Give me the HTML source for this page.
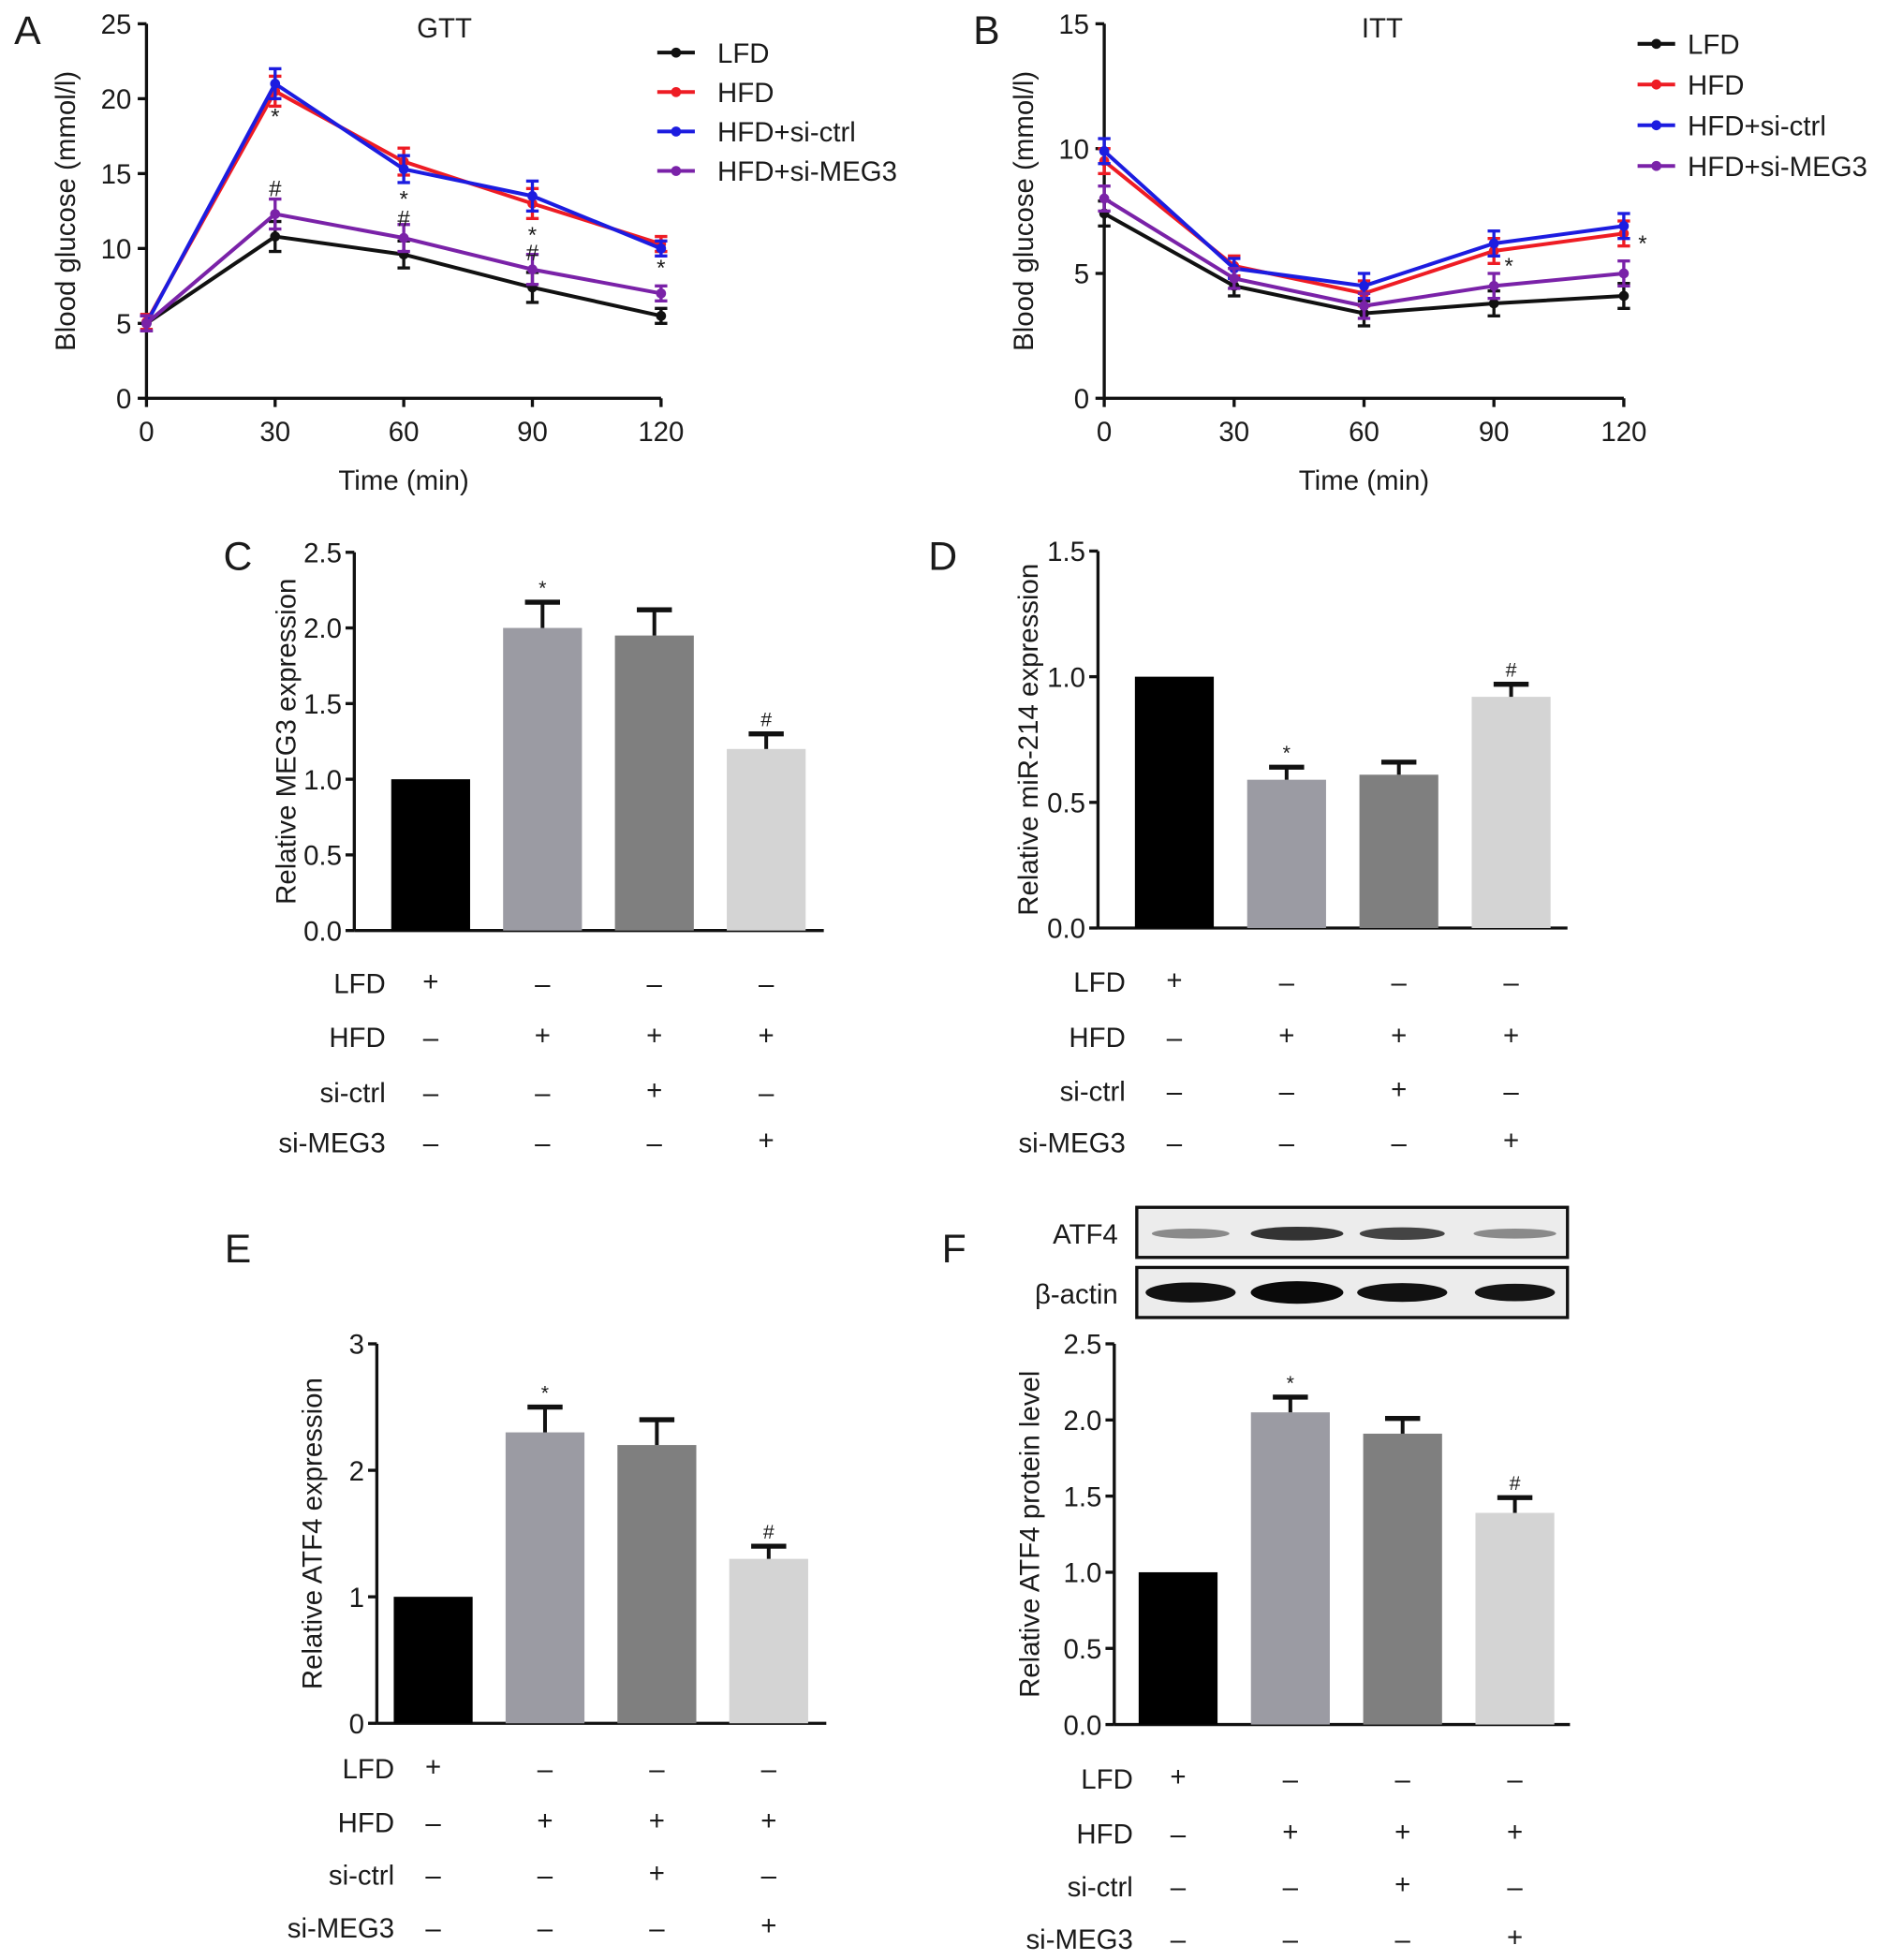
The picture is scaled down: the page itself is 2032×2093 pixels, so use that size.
<!DOCTYPE html>
<html><head><meta charset="utf-8"><style>
html,body{margin:0;padding:0;background:#fff;}
svg{display:block;font-family:"Liberation Sans",Arial,sans-serif;}
</style></head><body>
<svg id="fig" width="2032" height="2093" viewBox="0 0 1520 1565" preserveAspectRatio="none" xmlns="http://www.w3.org/2000/svg"></svg>
<script>
// ---- Panel A (GTT) data ----
const timesA = [0, 30, 60, 90, 120];
const gttLFD = [5.0, 10.8, 9.6, 7.4, 5.5];
const gttHFD = [5.1, 20.5, 15.8, 13.0, 10.3];
const gttCtrl = [5.0, 21.0, 15.3, 13.5, 10.0];
const gttMEG3 = [5.0, 12.3, 10.7, 8.6, 7.0];
const gttErr = [0.5, 1.0, 0.9, 1.0, 0.5];
const gttTicks = [0, 5, 10, 15, 20, 25];
// ---- Panel B (ITT) data ----
const ittLFD = [7.4, 4.5, 3.4, 3.8, 4.1];
const ittHFD = [9.5, 5.3, 4.2, 5.9, 6.6];
const ittCtrl = [9.9, 5.2, 4.5, 6.2, 6.9];
const ittMEG3 = [8.0, 4.8, 3.7, 4.5, 5.0];
const ittErr = [0.5, 0.4, 0.5, 0.5, 0.5];
const ittTicks = [0, 5, 10, 15];
const seriesNames = ["LFD", "HFD", "HFD+si-ctrl", "HFD+si-MEG3"];
// ---- bar panels ----
const groups = ["LFD", "HFD", "si-ctrl", "si-MEG3"];
const signs = [["+","–","–","–"],["–","+","+","+"],["–","–","+","–"],["–","–","–","+"]];
const megVals = [1.0, 2.0, 1.95, 1.2];
const megErr = [0, 0.17, 0.17, 0.1];
const megTicks = [0.0, 0.5, 1.0, 1.5, 2.0, 2.5];
const mirVals = [1.0, 0.59, 0.61, 0.92];
const mirErr = [0, 0.05, 0.05, 0.05];
const mirTicks = [0.0, 0.5, 1.0, 1.5];
const atfVals = [1.0, 2.3, 2.2, 1.3];
const atfErr = [0, 0.2, 0.2, 0.1];
const atfTicks = [0, 1, 2, 3];
const protVals = [1.0, 2.05, 1.91, 1.39];
const protErr = [0, 0.1, 0.1, 0.1];
const protTicks = [0.0, 0.5, 1.0, 1.5, 2.0, 2.5];

const svg = document.getElementById('fig');
const NS = "http://www.w3.org/2000/svg";
function el(tag, attrs, parent) {
  const e = document.createElementNS(NS, tag);
  for (const k in attrs) e.setAttribute(k, attrs[k]);
  (parent || svg).appendChild(e);
  return e;
}
function txt(s, x, y, size, anchor, parent, extra) {
  const t = el('text', Object.assign({x: x, y: y, 'font-size': size, 'text-anchor': anchor || 'start', fill: '#1a1a1a'}, extra || {}), parent);
  t.textContent = s;
  return t;
}
function letter(s, x, y) {
  const t = txt(s, x, y, 32, 'middle');
  
  
}

function linePanel(cfg) {
  const g = el('g', {});
  
  
  const sx = v => cfg.x0 + (v / 120) * (cfg.x1 - cfg.x0);
  const sy = v => cfg.y0 - (v / cfg.ymax) * (cfg.y0 - cfg.y1);
  el('line', {x1: cfg.x0, y1: cfg.y1, x2: cfg.x0, y2: cfg.y0, stroke: '#111', 'stroke-width': 2.5}, g);
  el('line', {x1: cfg.x0, y1: cfg.y0, x2: sx(120), y2: cfg.y0, stroke: '#111', 'stroke-width': 2.5}, g);
  cfg.ticks.forEach(v => {
    el('line', {x1: cfg.x0 - 7, y1: sy(v), x2: cfg.x0, y2: sy(v), stroke: '#111', 'stroke-width': 2.5}, g);
    const t = txt(String(v), cfg.x0 - 12, sy(v) + 8, 22, 'end', g);
    
    
  });
  timesA.forEach(v => {
    el('line', {x1: sx(v), y1: cfg.y0, x2: sx(v), y2: cfg.y0 + 7, stroke: '#111', 'stroke-width': 2.5}, g);
    const t = txt(String(v), sx(v), cfg.y0 + 34, 22, 'middle', g);
    
    
  });
  const xt = txt('Time (min)', (cfg.x0 + sx(120)) / 2, cfg.y0 + 73, 22, 'middle', g);
  
  
  const yt = txt('Blood glucose (mmol/l)', 0, 0, 22, 'middle', g, {transform: `translate(${cfg.x0 - 57},${(cfg.y0 + cfg.y1) / 2}) rotate(-90)`});
  
  
  const tt = txt(cfg.title, cfg.titleX, 30, 22, 'middle', g);
  
  
  const colors = ['#111', '#ee1c24', '#1c1ce0', '#7a22a8'];
  cfg.series.forEach((data, si) => {
    const c = colors[si];
    const pts = data.map((v, i) => sx(timesA[i]) + ',' + sy(v)).join(' ');
    const pl = el('polyline', {points: pts, fill: 'none', stroke: c, 'stroke-width': 3}, g);
    
    
    data.forEach((v, i) => {
      const x = sx(timesA[i]), e = cfg.err[i];
      el('line', {x1: x, y1: sy(v - e), x2: x, y2: sy(v + e), stroke: c, 'stroke-width': 2.5}, g);
      el('line', {x1: x - 5, y1: sy(v + e), x2: x + 5, y2: sy(v + e), stroke: c, 'stroke-width': 2.5}, g);
      el('line', {x1: x - 5, y1: sy(v - e), x2: x + 5, y2: sy(v - e), stroke: c, 'stroke-width': 2.5}, g);
      const m = el('circle', {cx: x, cy: sy(v), r: 4, fill: c}, g);
      
      
    });
  });
  cfg.marks.forEach(m => {
    const t = txt(m[0], sx(m[1]) + (m[3] || 0), sy(m[2]), 18, 'middle', g);
    
    
  });
  seriesNames.forEach((n, i) => {
    const y = cfg.legY + i * cfg.legDy;
    const lg = el('g', {}, g);
    
    
    el('line', {x1: cfg.legX, y1: y, x2: cfg.legX + 30, y2: y, stroke: colors[i], 'stroke-width': 3}, lg);
    el('circle', {cx: cfg.legX + 15, cy: y, r: 4, fill: colors[i]}, lg);
    txt(n, cfg.legX + 40 + cfg.legGap, y + 8, 22, 'start', lg);
  });
}

linePanel({name: 'gtt-chart', x0: 117, x1: 528, y0: 318, y1: 19, ymax: 25, ticks: gttTicks, title: 'GTT', titleX: 355,
  series: [gttLFD, gttHFD, gttCtrl, gttMEG3], err: gttErr, legX: 525, legY: 42, legDy: 31.5, legGap: 8,
  marks: [['*', 30, 18.3], ['#', 30, 13.5], ['*', 60, 12.8], ['#', 60, 11.5], ['*', 90, 10.4], ['#', 90, 9.2], ['*', 120, 8.2]]});
linePanel({name: 'itt-chart', x0: 882, x1: 1297, y0: 318, y1: 19, ymax: 15, ticks: ittTicks, title: 'ITT', titleX: 1104,
  series: [ittLFD, ittHFD, ittCtrl, ittMEG3], err: ittErr, legX: 1308, legY: 35, legDy: 32.5, legGap: 0,
  marks: [['*', 90, 5.0, 12], ['*', 120, 5.9, 15]]});
letter('A', 22, 35);
letter('B', 788, 35);

function barPanel(cfg) {
  const g = el('g', {});
  
  
  const ymax = cfg.ticks[cfg.ticks.length - 1];
  const sy = v => cfg.y0 - (v / ymax) * (cfg.y0 - cfg.y1);
  const sxb = i => cfg.c0 + i * (cfg.c3 - cfg.c0) / (groups.length - 1);
  el('line', {x1: cfg.x0, y1: cfg.y1, x2: cfg.x0, y2: cfg.y0, stroke: '#111', 'stroke-width': 2.5}, g);
  el('line', {x1: cfg.x0, y1: cfg.y0, x2: cfg.xEnd, y2: cfg.y0, stroke: '#111', 'stroke-width': 2.5}, g);
  cfg.ticks.forEach(v => {
    el('line', {x1: cfg.x0 - 7, y1: sy(v), x2: cfg.x0, y2: sy(v), stroke: '#111', 'stroke-width': 2.5}, g);
    const t = txt(cfg.fmt(v), cfg.x0 - 10, sy(v) + 8, 22, 'end', g);
    
    
  });
  const yt = txt(cfg.ylabel, 0, 0, 22, 'middle', g, {transform: `translate(${cfg.ylabX},${(cfg.y0 + cfg.y1) / 2}) rotate(-90)`});
  
  
  const fills = ['#000', '#9b9ba3', '#7f7f7f', '#d4d4d4'];
  const bw = 63;
  cfg.vals.forEach((v, i) => {
    const cx = sxb(i);
    const b = el('rect', {x: cx - bw / 2, y: sy(v), width: bw, height: cfg.y0 - sy(v), fill: fills[i]}, g);
    
    
    const e = cfg.err[i];
    if (e > 0) {
      el('line', {x1: cx, y1: sy(v), x2: cx, y2: sy(v + e), stroke: '#111', 'stroke-width': 3}, g);
      el('line', {x1: cx - 14, y1: sy(v + e), x2: cx + 14, y2: sy(v + e), stroke: '#111', 'stroke-width': 4}, g);
    }
    if (cfg.marks[i]) {
      const t = txt(cfg.marks[i], cx, sy(v + e) - 6, 16, 'middle', g);
      
      
    }
    signs.forEach((row, r) => {
      const t = txt(row[i], cx, cfg.rowY[r] + (row[i] === '+' ? 6 : 8), 22, 'middle', g);
      
      
    });
  });
  groups.forEach((n, r) => {
    const t = txt(n, cfg.labX, cfg.rowY[r] + 8, 22, 'end', g);
    
    
  });
}
const f1 = v => v.toFixed(1), f0 = v => String(v);
barPanel({name: 'meg3-bar-chart', x0: 283, xEnd: 658, y0: 743, y1: 441, c0: 344, c3: 612, ticks: megTicks, fmt: f1, vals: megVals, err: megErr,
  ylabel: 'Relative MEG3 expression', ylabX: 236, marks: [null, '*', null, '#'], rowY: [785, 828, 872, 912], labX: 308});
barPanel({name: 'mir214-bar-chart', x0: 877, xEnd: 1252, y0: 741, y1: 440, c0: 938, c3: 1207, ticks: mirTicks, fmt: f1, vals: mirVals, err: mirErr,
  ylabel: 'Relative miR-214 expression', ylabX: 829, marks: [null, '*', null, '#'], rowY: [784, 828, 871, 912], labX: 899});
barPanel({name: 'atf4-mrna-bar-chart', x0: 301, xEnd: 660, y0: 1376, y1: 1073, c0: 346, c3: 614, ticks: atfTicks, fmt: f0, vals: atfVals, err: atfErr,
  ylabel: 'Relative ATF4 expression', ylabX: 257, marks: [null, '*', null, '#'], rowY: [1412, 1455, 1497, 1539], labX: 315});
barPanel({name: 'atf4-protein-bar-chart', x0: 890, xEnd: 1254, y0: 1377, y1: 1073, c0: 941, c3: 1210, ticks: protTicks, fmt: f1, vals: protVals, err: protErr,
  ylabel: 'Relative ATF4 protein level', ylabX: 830, marks: [null, '*', null, '#'], rowY: [1420, 1464, 1506, 1548], labX: 905});
letter('C', 190, 455);
letter('D', 753, 455);
letter('E', 190, 1008);
letter('F', 762, 1008);

// Western blot
const blot = el('g', {});


const laneX = [951, 1036, 1120, 1210];
const atfBand = [[62, 8, '#8a8a8a'], [74, 11, '#333'], [68, 10, '#444'], [66, 8, '#8a8a8a']];
const actBand = [[72, 16, '#111'], [74, 18, '#0a0a0a'], [72, 15, '#111'], [64, 14, '#151515']];
el('rect', {x: 908, y: 964, width: 344, height: 40, fill: '#ececec', stroke: '#111', 'stroke-width': 2.5}, blot);
el('rect', {x: 908, y: 1012, width: 344, height: 40, fill: '#ececec', stroke: '#111', 'stroke-width': 2.5}, blot);
laneX.forEach((x, i) => {
  const b1 = el('ellipse', {cx: x, cy: 985, rx: atfBand[i][0] / 2, ry: atfBand[i][1] / 2, fill: atfBand[i][2]}, blot);
  
  
  const b2 = el('ellipse', {cx: x, cy: 1032, rx: actBand[i][0] / 2, ry: actBand[i][1] / 2, fill: actBand[i][2]}, blot);
  
  
});
const l1 = txt('ATF4', 893, 993, 22, 'end', blot);


const l2 = txt('β-actin', 893, 1041, 22, 'end', blot);


</script>
</body></html>
